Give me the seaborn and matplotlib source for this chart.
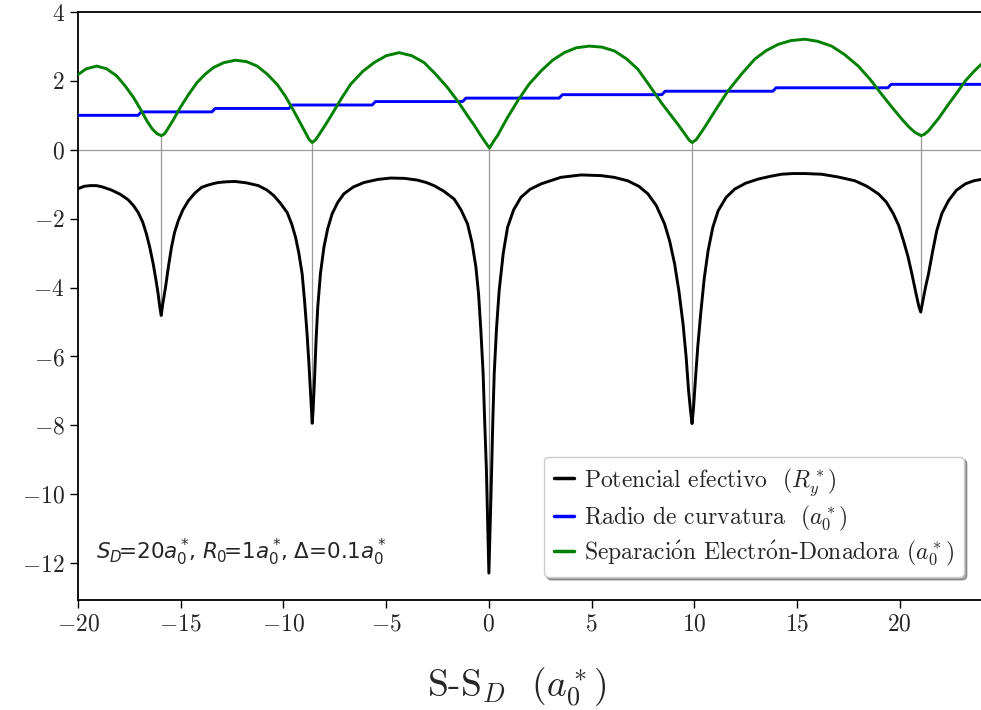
import numpy as np
import pandas as pd
import matplotlib
matplotlib.use("Agg")
import matplotlib.pyplot as plt
import seaborn as sns

# ---------------- data ----------------
pot_x = [-20.0, -19.7, -19.4, -19.1, -18.8, -18.37, -17.95, -17.56, -17.3, -17.07,
         -16.85, -16.67, -16.5, -16.34, -16.2, -16.1, -16.02, -15.95, -15.88, -15.74,
         -15.6, -15.45, -15.3, -15.12, -14.9, -14.63, -14.3, -13.98, -13.7, -13.4,
         -13.17, -12.8, -12.36, -11.8, -11.22, -10.8, -10.47, -10.15, -9.82, -9.6,
         -9.41, -9.25, -9.09, -8.97, -8.85, -8.76, -8.68, -8.62, -8.6, -8.56,
         -8.49, -8.41, -8.33, -8.2, -8.03, -7.85, -7.63, -7.35, -7.06, -6.6,
         -6.08, -5.4, -4.78, -4.1, -3.48, -3.05, -2.67, -2.2, -1.69, -1.35,
         -1.04, -0.82, -0.63, -0.5, -0.39, -0.28, -0.2, -0.12, -0.06, 0.0,
         0.06, 0.13, 0.19, 0.26, 0.37, 0.5, 0.7, 0.91, 1.2, 1.56,
         2.0, 2.54, 3.5, 4.49, 5.46, 6.1, 6.76, 7.3, 7.74, 8.15,
         8.55, 8.8, 9.04, 9.25, 9.45, 9.6, 9.72, 9.82, 9.89, 9.96,
         10.05, 10.17, 10.31, 10.48, 10.67, 10.9, 11.16, 11.55, 11.97, 12.5,
         13.11, 13.7, 14.24, 14.8, 15.4, 16.2, 17.0, 17.82, 18.4, 18.96,
         19.35, 19.69, 19.95, 20.18, 20.4, 20.59, 20.8, 20.93, 21.02, 21.12,
         21.25, 21.4, 21.6, 21.8, 22.05, 22.37, 22.75, 23.19, 23.6, 24.05]
pot_y = [-1.13, -1.06, -1.04, -1.04, -1.08, -1.17, -1.29, -1.45, -1.62, -1.82,
         -2.1, -2.44, -2.85, -3.31, -3.8, -4.18, -4.55, -4.81, -4.5, -3.99,
         -3.4, -2.83, -2.4, -2.06, -1.75, -1.48, -1.25, -1.09, -1.03, -0.98,
         -0.95, -0.93, -0.92, -0.96, -1.04, -1.17, -1.33, -1.55, -1.82, -2.15,
         -2.54, -3.0, -3.6, -4.4, -5.34, -6.2, -7.07, -7.7, -7.94, -7.6,
         -6.7, -5.5, -4.57, -3.6, -2.83, -2.3, -1.86, -1.52, -1.28, -1.08,
         -0.95, -0.86, -0.82, -0.83, -0.88, -0.95, -1.04, -1.2, -1.43, -1.75,
         -2.15, -2.7, -3.41, -4.2, -5.25, -6.5, -7.95, -9.3, -10.85, -12.29,
         -11.0, -9.4, -7.9, -6.5, -5.2, -4.09, -3.0, -2.25, -1.75, -1.38,
         -1.15, -0.99, -0.8, -0.73, -0.75, -0.8, -0.9, -1.06, -1.28, -1.62,
         -2.15, -2.65, -3.31, -4.1, -5.05, -6.0, -6.99, -7.6, -7.95, -7.5,
         -6.7, -5.7, -4.76, -3.75, -2.93, -2.25, -1.77, -1.38, -1.14, -0.97,
         -0.85, -0.77, -0.71, -0.69, -0.69, -0.71, -0.79, -0.9, -1.06, -1.28,
         -1.52, -1.86, -2.2, -2.64, -3.1, -3.6, -4.2, -4.55, -4.71, -4.4,
         -4.0, -3.6, -2.95, -2.35, -1.85, -1.48, -1.18, -0.99, -0.9, -0.85]

sep_x = [-20.03, -19.6, -19.09, -18.6, -18.11, -17.7, -17.3, -16.95, -16.65, -16.38,
         -16.16, -15.94, -15.8, -15.69, -15.35, -15.02, -14.6, -14.21, -13.8, -13.4,
         -12.9, -12.34, -11.8, -11.28, -10.8, -10.31, -9.9, -9.5, -9.2, -8.93,
         -8.75, -8.6, -8.42, -8.2, -7.95, -7.71, -7.2, -6.73, -6.15, -5.59,
         -5.0, -4.37, -3.75, -3.15, -2.6, -2.02, -1.5, -1.04, -0.7, -0.39,
         -0.15, 0.03, 0.2, 0.42, 0.9, 1.4, 1.95, 2.54, 3.1, 3.67,
         4.25, 4.89, 5.5, 6.11, 6.7, 7.25, 7.8, 8.39, 8.8, 9.2,
         9.55, 9.75, 9.9, 10.1, 10.5, 11.05, 11.64, 12.3, 12.94, 13.5,
         14.08, 14.7, 15.38, 16.0, 16.68, 17.3, 17.98, 18.55, 19.12, 19.6,
         20.1, 20.45, 20.75, 21.04, 21.2, 21.4, 21.9, 22.37, 22.8, 23.19,
         23.6, 24.05]
sep_y = [2.17, 2.35, 2.43, 2.35, 2.14, 1.85, 1.52, 1.17, 0.84, 0.6,
         0.47, 0.41, 0.46, 0.55, 0.88, 1.23, 1.62, 1.95, 2.2, 2.39,
         2.53, 2.6, 2.56, 2.43, 2.2, 1.9, 1.55, 1.13, 0.8, 0.5,
         0.3, 0.21, 0.3, 0.5, 0.73, 0.96, 1.47, 1.9, 2.27, 2.53,
         2.73, 2.82, 2.73, 2.53, 2.2, 1.81, 1.4, 0.99, 0.7, 0.41,
         0.2, 0.05, 0.22, 0.41, 0.93, 1.42, 1.9, 2.29, 2.6, 2.82,
         2.96, 3.01, 2.98, 2.87, 2.64, 2.34, 1.88, 1.37, 1.05, 0.74,
         0.45, 0.28, 0.21, 0.3, 0.65, 1.17, 1.71, 2.2, 2.63, 2.88,
         3.06, 3.17, 3.21, 3.15, 3.01, 2.77, 2.43, 2.05, 1.61, 1.25,
         0.89, 0.66, 0.5, 0.41, 0.45, 0.55, 0.92, 1.32, 1.67, 2.0,
         2.27, 2.53]

# radius of curvature: level between step positions
rad_steps = [-17.0, -13.4, -9.65, -5.6, -1.2, 3.5, 8.5, 13.9, 19.5]
rad_levels = [1.0, 1.1, 1.2, 1.3, 1.4, 1.5, 1.6, 1.7, 1.8, 1.9]
x_start, x_end = -20.03, 24.05

# minima (connector lines)
min_x = [-15.95, -8.6, 0.0, 9.9, 21.02]
min_top = [0.41, 0.21, 0.05, 0.21, 0.41]
min_bot = [-4.81, -7.94, -12.29, -7.95, -4.71]

# ---------------- build blue polyline ----------------
rad_x = [x_start]
rad_y = [rad_levels[0]]
for s, lo, hi in zip(rad_steps, rad_levels[:-1], rad_levels[1:]):
    rad_x += [s - 0.08, s + 0.08]
    rad_y += [lo, hi]
rad_x.append(x_end)
rad_y.append(rad_levels[-1])

# ---------------- style ----------------
sns.set_style("ticks")
plt.rcParams.update({
    "font.family": "serif",
    "font.serif": ["cmr10"],
    "mathtext.fontset": "cm",
    "axes.formatter.use_mathtext": True,
    "axes.unicode_minus": True,
})

fig = plt.figure(figsize=(9.81, 7.10), dpi=100)
ax = fig.add_axes([78 / 981, 110 / 710, 1.002 - 78 / 981, (600 - 12) / 710])

ax.axhline(0, color="#999999", lw=0.9, zorder=1)
ax.vlines(min_x, min_bot, min_top, color="#999999", lw=0.9, zorder=1)

sns.lineplot(x=pot_x, y=pot_y, ax=ax, color="black", lw=2.1, sort=False,
             estimator=None, label=r"Potencial efectivo  $(R_y^*)$", zorder=3)
sns.lineplot(x=rad_x, y=rad_y, ax=ax, color="blue", lw=2.1, sort=False,
             estimator=None, label=r"Radio de curvatura  $(a_0^*)$", zorder=3)
sns.lineplot(x=sep_x, y=sep_y, ax=ax, color="green", lw=2.1, sort=False,
             estimator=None,
             label=r"Separaci$\acute{\mathrm{o}}$n Electr$\acute{\mathrm{o}}$n-Donadora $(a_0^*)$",
             zorder=3)

ax.set_xlim(-20, 24.05)
ax.set_ylim(-13.07, 4)
ax.set_xticks([-20, -15, -10, -5, 0, 5, 10, 15, 20])
ax.set_yticks([-12, -10, -8, -6, -4, -2, 0, 2, 4])
ax.tick_params(axis="both", direction="out", length=6, width=1.0, labelsize=17,
               color="black")
for sp in ax.spines.values():
    sp.set_linewidth(1.3)
    sp.set_color("black")

ax.set_xlabel(r"S-S$_D$  $(a_0^*)$", fontsize=27)
ax.xaxis.set_label_coords((516 - 78) / 903, (600 - 666) / 588)
ax.set_ylabel("")

leg = ax.legend(loc="lower right", bbox_to_anchor=(0.979, 0.039), borderaxespad=0,
                fontsize=17, handlelength=0.85, handletextpad=0.45, labelspacing=0.25,
                borderpad=0.4, frameon=True,
                fancybox=True, shadow=True, framealpha=1.0, edgecolor="#cccccc")
for lh in leg.get_lines():
    lh.set_linewidth(2.5)

ax.text(-19.1, -11.9,
        r"$S_D\!$=20$a_0^*\!$, $R_0\!$=1$a_0^*\!$, $\Delta$=0.1$a_0^*$",
        fontsize=15.5, family="DejaVu Sans", math_fontfamily="dejavusans",
        va="baseline", ha="left")

fig.savefig("out.png", dpi=100)
